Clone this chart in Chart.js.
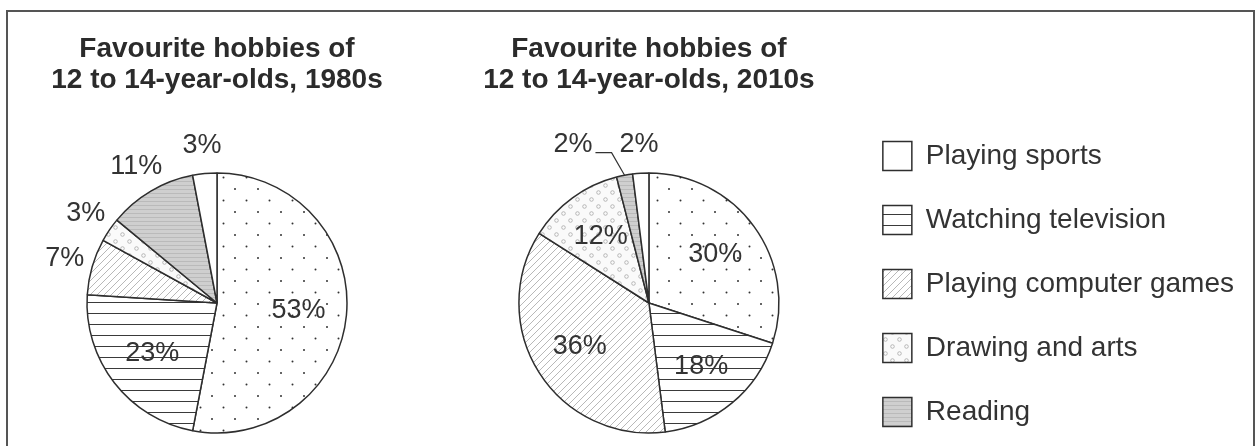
<!DOCTYPE html>
<html>
<head>
<meta charset="utf-8">
<script src="https://cdn.jsdelivr.net/npm/chart.js@4.4.1/dist/chart.umd.min.js"></script>
<style>
  html, body { margin: 0; padding: 0; background: #fff; overflow: hidden; }
  #stage { position: relative; width: 1260px; height: 446px; overflow: hidden; }
  #pie1980 { position: absolute; left: 0; top: 0; }
  #pie2010 { position: absolute; left: 434px; top: 0; }
  #frame {
    position: absolute; left: 6px; top: 10px; width: 1245px; height: 600px;
    border: 2px solid #555; pointer-events: none;
  }
</style>
</head>
<body>
<div id="stage">
  <canvas id="pie1980" width="434" height="480"></canvas>
  <canvas id="pie2010" width="826" height="480"></canvas>
  <div id="frame"></div>
</div>
<script>
// slices go clockwise from 12 o'clock
const hobbies = ['Other', 'Watching television', 'Playing computer games', 'Drawing and arts', 'Reading', 'Playing sports'];
const share1980s = [53, 23, 7, 3, 11, 3];
const share2010s = [30, 18, 36, 12, 2, 2];
const title1980s = ['Favourite hobbies of', '12 to 14-year-olds, 1980s'];
const title2010s = ['Favourite hobbies of', '12 to 14-year-olds, 2010s'];
const legendOrder = ['Playing sports', 'Watching television', 'Playing computer games', 'Drawing and arts', 'Reading'];

Chart.defaults.font.family = '"Liberation Sans", Arial, Helvetica, sans-serif';
Chart.defaults.color = '#333';

// small tiles turned into canvas patterns, one per hobby
function makePattern(size, bg, draw) {
  const c = document.createElement('canvas');
  c.width = c.height = size;
  const g = c.getContext('2d');
  g.fillStyle = bg;
  g.fillRect(0, 0, size, size);
  if (draw) draw(g, size);
  return g.createPattern(c, 'repeat');
}

const fills = {
  'Other': makePattern(23, '#fff', (g) => {
    g.fillStyle = '#333';
    [[5, 5], [16.5, 16.5]].forEach(([x, y]) => {
      g.beginPath(); g.arc(x, y, 1, 0, Math.PI * 2); g.fill();
    });
  }),
  'Watching television': makePattern(11, '#fff', (g, s) => {
    g.fillStyle = '#3a3a3a';
    g.fillRect(0, 5, s, 1);
  }),
  'Playing computer games': makePattern(7, '#fff', (g, s) => {
    g.strokeStyle = '#999';
    g.lineWidth = 0.7;
    g.beginPath();
    g.moveTo(-1, s + 1); g.lineTo(s + 1, -1);
    g.moveTo(-1, 1); g.lineTo(1, -1);
    g.moveTo(s - 1, s + 1); g.lineTo(s + 1, s - 1);
    g.stroke();
  }),
  'Drawing and arts': makePattern(14, '#fafafa', (g) => {
    g.strokeStyle = '#a8a8a8';
    g.lineWidth = 0.8;
    [[3.5, 3.5], [10.5, 10.5]].forEach(([x, y]) => {
      g.beginPath(); g.arc(x, y, 1.8, 0, Math.PI * 2); g.stroke();
    });
  }),
  'Reading': makePattern(4, '#cfcfcf', (g, s) => {
    g.fillStyle = '#bababa';
    g.fillRect(0, 1, s, 1);
  }),
  'Playing sports': '#ffffff'
};

// percentage labels: big slices inside, small ones outside, leader line when two collide
const percentLabels = {
  id: 'percentLabels',
  afterDatasetsDraw(chart) {
    const ctx = chart.ctx;
    const values = chart.data.datasets[0].data;
    const arcs = chart.getDatasetMeta(0).data;
    ctx.save();
    ctx.font = '27px "Liberation Sans", Arial, sans-serif';
    ctx.fillStyle = '#333';
    ctx.strokeStyle = '#333';
    ctx.lineWidth = 1.2;
    ctx.textAlign = 'center';
    ctx.textBaseline = 'middle';

    const labels = arcs.map((arc, i) => {
      const p = arc.getProps(['x', 'y', 'startAngle', 'endAngle', 'outerRadius'], true);
      const mid = (p.startAngle + p.endAngle) / 2;
      const inside = values[i] >= 12;
      const r = p.outerRadius * (inside ? 0.63 : 1.22);
      const text = values[i] + '%';
      return {
        text, inside,
        x: p.x + Math.cos(mid) * r,
        y: p.y + Math.sin(mid) * r,
        w: ctx.measureText(text).width,
        edge: { x: p.x + Math.cos(mid) * p.outerRadius, y: p.y + Math.sin(mid) * p.outerRadius }
      };
    });

    for (let k = labels.length - 2; k >= 0; k--) {
      const a = labels[k], b = labels[k + 1];
      if (a.inside || b.inside) continue;
      if (Math.abs(a.y - b.y) < 24 && a.x + a.w / 2 > b.x - b.w / 2 - 4) {
        a.x = b.x - b.w / 2 - 27 - a.w / 2;
        a.y = b.y;
        a.leader = true;
      }
    }

    labels.forEach((l) => {
      ctx.fillText(l.text, l.x, l.y);
      if (l.leader) {
        ctx.beginPath();
        ctx.moveTo(l.x + l.w / 2 + 3, l.y + 8);
        ctx.lineTo(l.edge.x - 13, l.y + 8);
        ctx.lineTo(l.edge.x, l.edge.y);
        ctx.stroke();
      }
    });
    ctx.restore();
  }
};

function pieConfig(values, titleLines, padding, withLegend) {
  return {
    type: 'pie',
    data: {
      labels: hobbies,
      datasets: [{
        data: values,
        backgroundColor: hobbies.map(h => fills[h]),
        borderColor: '#2e2e2e',
        borderWidth: 1.5
      }]
    },
    options: {
      responsive: false,
      devicePixelRatio: 1,
      animation: false,
      events: [],
      radius: 130,
      layout: { padding },
      plugins: {
        title: {
          display: true,
          text: titleLines,
          fullSize: false,
          color: '#2b2b2b',
          font: { size: 28, weight: 'bold', lineHeight: 1.1 },
          padding: { top: 33.6, bottom: 49.3 }
        },
        legend: {
          display: withLegend,
          position: 'right',
          align: 'end',
          maxWidth: 420,
          labels: {
            boxWidth: 29,
            boxHeight: 29,
            padding: 35,
            color: '#333',
            font: { size: 28 },
            filter: (item) => legendOrder.includes(item.text),
            sort: (a, b) => legendOrder.indexOf(a.text) - legendOrder.indexOf(b.text)
          }
        },
        tooltip: { enabled: false }
      }
    },
    plugins: [percentLabels]
  };
}

new Chart(document.getElementById('pie1980'),
  pieConfig(share1980s, title1980s, { left: 0, right: 0, top: 0, bottom: 18.5 }, false));
new Chart(document.getElementById('pie2010'),
  pieConfig(share2010s, title2010s, { left: 16, right: 16, top: 0, bottom: 18.5 }, true));
</script>
</body>
</html>
